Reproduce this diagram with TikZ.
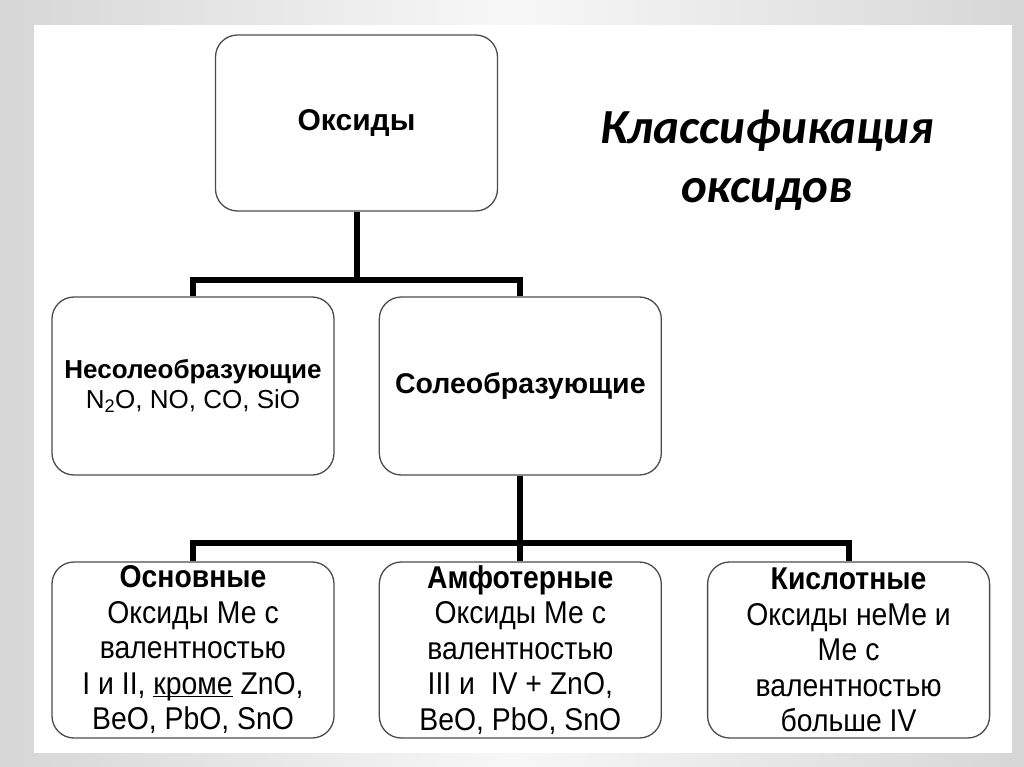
\documentclass[tikz,border=0pt]{standalone}
\usepackage{fontspec}
\setmainfont{Liberation Sans}
\newfontfamily\titlefont{Carlito}
\newfontfamily\narrowfont[FakeStretch=0.9]{Liberation Sans}
\usetikzlibrary{positioning}
\definecolor{frame}{rgb}{0.3,0.3,0.3}
\newcommand{\undl}[1]{\leavevmode\setbox0\hbox{#1}\rlap{\rule[-3pt]{\wd0}{1.6pt}}\box0\relax}

\begin{document}
\begin{tikzpicture}[
  x=1pt, y=-1pt,
  box/.style = {
    draw=frame,
    line width=1.3pt,
    rounded corners=22pt,
    fill=white,
    align=center,
    inner sep=0pt,
    minimum width=282pt,
  },
  topbox/.style = {
    box,
    minimum height=176pt,
    font=\fontsize{30}{34}\selectfont\bfseries,
  },
  midbox/.style = {
    box,
    minimum height=178pt,
    font=\fontsize{26}{30}\selectfont,
  },
  lowbox/.style = {
    box,
    minimum height=176pt,
    font=\narrowfont\fontsize{31.5}{35.5}\selectfont,
  },
  conn/.style = {
    draw,
    line width=6pt,
    line join=miter,
  },
]

  \useasboundingbox (0,0) rectangle (1024,767);
  \shade[left color=black!16, right color=black!16, middle color=black!3] (0,0) rectangle (1024,767);
  \fill[white] (34,25) rectangle (1012,753);

  % top
  \node[topbox] (oks) at (356.5,123) {Оксиды};

  % second row
  \node[midbox] (nesol) at (193,386) {\textbf{Несолеобразующие}\\N\textsubscript{2}O, NO, CO, SiO};
  \node[midbox] (sol) [right=44pt of nesol] {\fontsize{28.5}{32}\selectfont\textbf{Солеобразующие}};

  % third row
  \node[lowbox] (osn) at (193,650) {\textbf{Основные}\\Оксиды Ме с\\валентностью\\I и II, \undl{кроме} ZnO,\\BeO, PbO, SnO};
  \node[lowbox] (amf) [right=44pt of osn] {\textbf{Амфотерные}\\Оксиды Ме с\\валентностью\\III и\ \ IV + ZnO,\\BeO, PbO, SnO};
  \node[lowbox] (kis) [right=45pt of amf] {\textbf{Кислотные}\\Оксиды неМе и\\Ме с\\валентностью\\больше IV};

  % title
  \node[align=center, font=\fontsize{49}{59}\selectfont\titlefont\bfseries\itshape] (title) at (767,160) {Классификация\\оксидов};

  % connectors
  \coordinate (fork1) at (oks.south |- 0,280);
  \coordinate (fork2) at (sol.south |- 0,543);
  \path[conn] (oks.south) -- (fork1);
  \path[conn] (nesol.north) |- (fork1) -| (sol.north);
  \path[conn] (sol.south) -- (fork2);
  \path[conn] (osn.north) |- (fork2) -| (kis.north);
  \path[conn] (fork2) -- (amf.north);

\end{tikzpicture}
\end{document}
